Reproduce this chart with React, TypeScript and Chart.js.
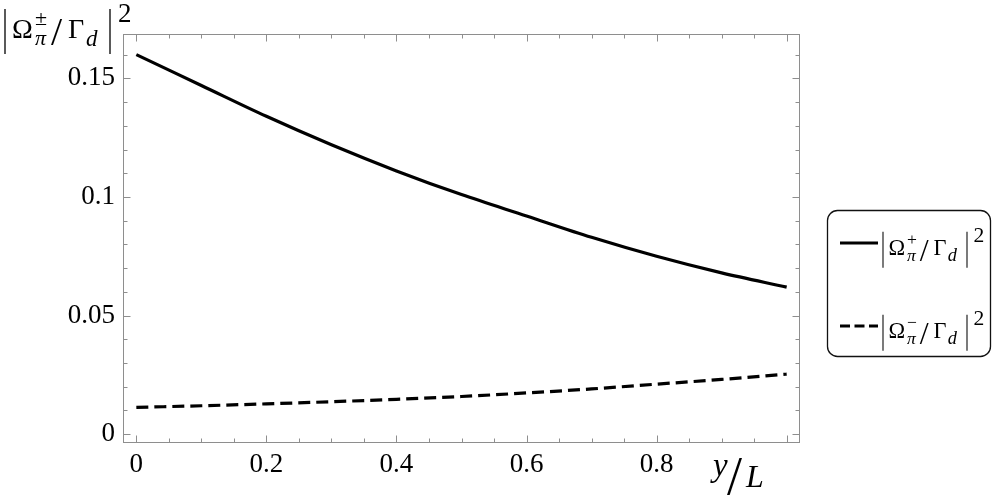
import React, { useEffect, useRef } from "react";
import { Chart, registerables } from "chart.js";
Chart.register(...registerables);

// ---- data ----
const xValues = [0, 0.1, 0.2, 0.3, 0.4, 0.5, 0.6, 0.7, 0.8, 0.9, 1.0];
const plusValues = [0.16, 0.147, 0.134, 0.122, 0.111, 0.101, 0.092, 0.083, 0.075, 0.068, 0.062];
const minusValues = [0.0113, 0.012, 0.0128, 0.0137, 0.0147, 0.0159, 0.0174, 0.0191, 0.0211, 0.0231, 0.0253];
const seriesSigns = ["+", "\u2212"];

const xMajorTicks = [0, 0.2, 0.4, 0.6, 0.8, 1.0];
const xTickLabels = ["0", "0.2", "0.4", "0.6", "0.8", ""];
const xMinorTicks = [0.05, 0.1, 0.15, 0.25, 0.3, 0.35, 0.45, 0.5, 0.55, 0.65, 0.7, 0.75, 0.85, 0.9, 0.95];
const yMajorTicks = [0, 0.05, 0.1, 0.15];
const yTickLabels = ["0", "0.05", "0.1", "0.15"];
const yMinorTicks = [0.01, 0.02, 0.03, 0.04, 0.06, 0.07, 0.08, 0.09, 0.11, 0.12, 0.13, 0.14, 0.16];

const X_MIN = -0.0205;
const X_MAX = 1.0205;
const Y_MIN = -0.0037;
const Y_MAX = 0.1687;

const SERIF = "'Liberation Serif', 'DejaVu Serif', serif";
const FRAME = "#8e8e8e";

function drawMath(ctx: CanvasRenderingContext2D, x0: number, b: number, k: number, sup: string) {
  const f = (s: number, italic = false) => `${italic ? "italic " : ""}${(s * k).toFixed(1)}px ${SERIF}`;
  ctx.save();
  ctx.fillStyle = "#000";
  ctx.strokeStyle = "#000";
  ctx.textBaseline = "alphabetic";
  ctx.textAlign = "left";
  ctx.lineWidth = 1.3 * k;
  const bar = (x: number) => {
    ctx.beginPath();
    ctx.moveTo(x, b - 29 * k);
    ctx.lineTo(x, b + 16 * k);
    ctx.stroke();
  };
  bar(x0);
  ctx.font = f(28);
  ctx.fillText("\u03A9", x0 + 7 * k, b);
  ctx.font = f(22);
  ctx.fillText(sup, x0 + 30 * k, b - 13 * k);
  ctx.font = f(22, true);
  ctx.fillText("\u03C0", x0 + 30 * k, b + 7 * k);
  ctx.font = f(40);
  ctx.fillText("/", x0 + 46 * k, b + 7 * k);
  ctx.font = f(28);
  ctx.fillText("\u0393", x0 + 63 * k, b);
  ctx.font = f(23, true);
  ctx.fillText("d", x0 + 81 * k, b + 8 * k);
  bar(x0 + 105 * k);
  ctx.font = f(27);
  ctx.fillText("2", x0 + 113 * k, b - 16 * k);
  ctx.restore();
}

const decorPlugin = {
  id: "decor",
  afterDraw(chart: any) {
    const ctx: CanvasRenderingContext2D = chart.ctx;
    const { left, right, top, bottom } = chart.chartArea;
    const sx = chart.scales.x;
    const sy = chart.scales.y;
    ctx.save();
    ctx.strokeStyle = FRAME;
    ctx.lineWidth = 1;
    const L = Math.round(left) + 0.5;
    const R = Math.round(right) - 0.5;
    const T = Math.round(top) + 0.5;
    const B = Math.round(bottom) - 0.5;
    ctx.strokeRect(L, T, R - L, B - T);
    ctx.beginPath();
    const xt = (v: number, len: number) => {
      const p = Math.round(sx.getPixelForValue(v)) + 0.5;
      ctx.moveTo(p, B);
      ctx.lineTo(p, B - len);
      ctx.moveTo(p, T);
      ctx.lineTo(p, T + len);
    };
    const yt = (v: number, len: number) => {
      const p = Math.round(sy.getPixelForValue(v)) + 0.5;
      ctx.moveTo(L, p);
      ctx.lineTo(L + len, p);
      ctx.moveTo(R, p);
      ctx.lineTo(R - len, p);
    };
    xMajorTicks.forEach((v) => xt(v, 7));
    xMinorTicks.forEach((v) => xt(v, 4));
    yMajorTicks.forEach((v) => yt(v, 7));
    yMinorTicks.forEach((v) => yt(v, 4));
    ctx.stroke();
    ctx.restore();

    // frame label (top-left)
    drawMath(ctx, 5, 38, 1, "\u00B1");

    // x-axis label y/L
    ctx.save();
    ctx.fillStyle = "#000";
    ctx.textBaseline = "alphabetic";
    ctx.textAlign = "left";
    ctx.font = `italic 33px ${SERIF}`;
    ctx.fillText("y", 713, 476);
    ctx.font = `54px ${SERIF}`;
    ctx.fillText("/", 727, 494);
    ctx.font = `italic 32px ${SERIF}`;
    ctx.fillText("L", 746, 487);
    ctx.restore();

    // legend
    ctx.save();
    ctx.strokeStyle = "#111";
    ctx.lineWidth = 1.3;
    ctx.beginPath();
    ctx.roundRect(827.5, 210.5, 163, 146, 10);
    ctx.stroke();
    ctx.strokeStyle = "#000";
    ctx.lineWidth = 3;
    ctx.beginPath();
    ctx.moveTo(840, 243);
    ctx.lineTo(878, 243);
    ctx.stroke();
    ctx.setLineDash([10, 4.5]);
    ctx.beginPath();
    ctx.moveTo(840, 326);
    ctx.lineTo(878, 326);
    ctx.stroke();
    ctx.restore();
    drawMath(ctx, 883, 255, 0.8, seriesSigns[0]);
    drawMath(ctx, 883, 338, 0.8, seriesSigns[1]);
  },
};

export default function App() {
  const ref = useRef<HTMLCanvasElement | null>(null);
  useEffect(() => {
    if (!ref.current) return;
    const chart = new Chart(ref.current, {
      type: "line",
      data: {
        datasets: [
          {
            label: "|Ω+π/Γd|²",
            data: xValues.map((x, i) => ({ x, y: plusValues[i] })),
            borderColor: "#000",
            borderWidth: 3.2,
            pointRadius: 0,
            cubicInterpolationMode: "monotone",
            fill: false,
          },
          {
            label: "|Ω−π/Γd|²",
            data: xValues.map((x, i) => ({ x, y: minusValues[i] })),
            borderColor: "#000",
            borderWidth: 3.2,
            borderDash: [12, 6],
            pointRadius: 0,
            cubicInterpolationMode: "monotone",
            fill: false,
          },
        ],
      },
      options: {
        animation: false,
        responsive: false,
        maintainAspectRatio: false,
        layout: { padding: { top: 34, right: 197, left: 0, bottom: 0 } },
        plugins: { legend: { display: false }, tooltip: { enabled: false } },
        scales: {
          x: {
            type: "linear",
            min: X_MIN,
            max: X_MAX,
            afterBuildTicks: (s: any) => {
              s.ticks = xMajorTicks.map((v) => ({ value: v }));
            },
            afterFit: (s: any) => {
              s.height = 58;
            },
            ticks: {
              autoSkip: false,
              maxRotation: 0,
              minRotation: 0,
              padding: 6,
              color: "#000",
              font: { family: SERIF, size: 27 },
              callback: (_v: any, i: number) => xTickLabels[i],
            },
            grid: { display: false, drawTicks: false },
            border: { display: false },
          },
          y: {
            type: "linear",
            min: Y_MIN,
            max: Y_MAX,
            afterBuildTicks: (s: any) => {
              s.ticks = yMajorTicks.map((v) => ({ value: v }));
            },
            afterFit: (s: any) => {
              s.width = 123;
            },
            ticks: {
              autoSkip: false,
              padding: 8,
              color: "#000",
              font: { family: SERIF, size: 27 },
              callback: (_v: any, i: number) => yTickLabels[i],
            },
            grid: { display: false, drawTicks: false },
            border: { display: false },
          },
        },
      },
      plugins: [decorPlugin],
    } as any);
    return () => chart.destroy();
  }, []);
  return (
    <div style={{ position: "fixed", left: 0, top: 0, width: 997, height: 501, background: "#fff" }}>
      <canvas ref={ref} width={997} height={501} style={{ width: 997, height: 501, display: "block" }} />
    </div>
  );
}
